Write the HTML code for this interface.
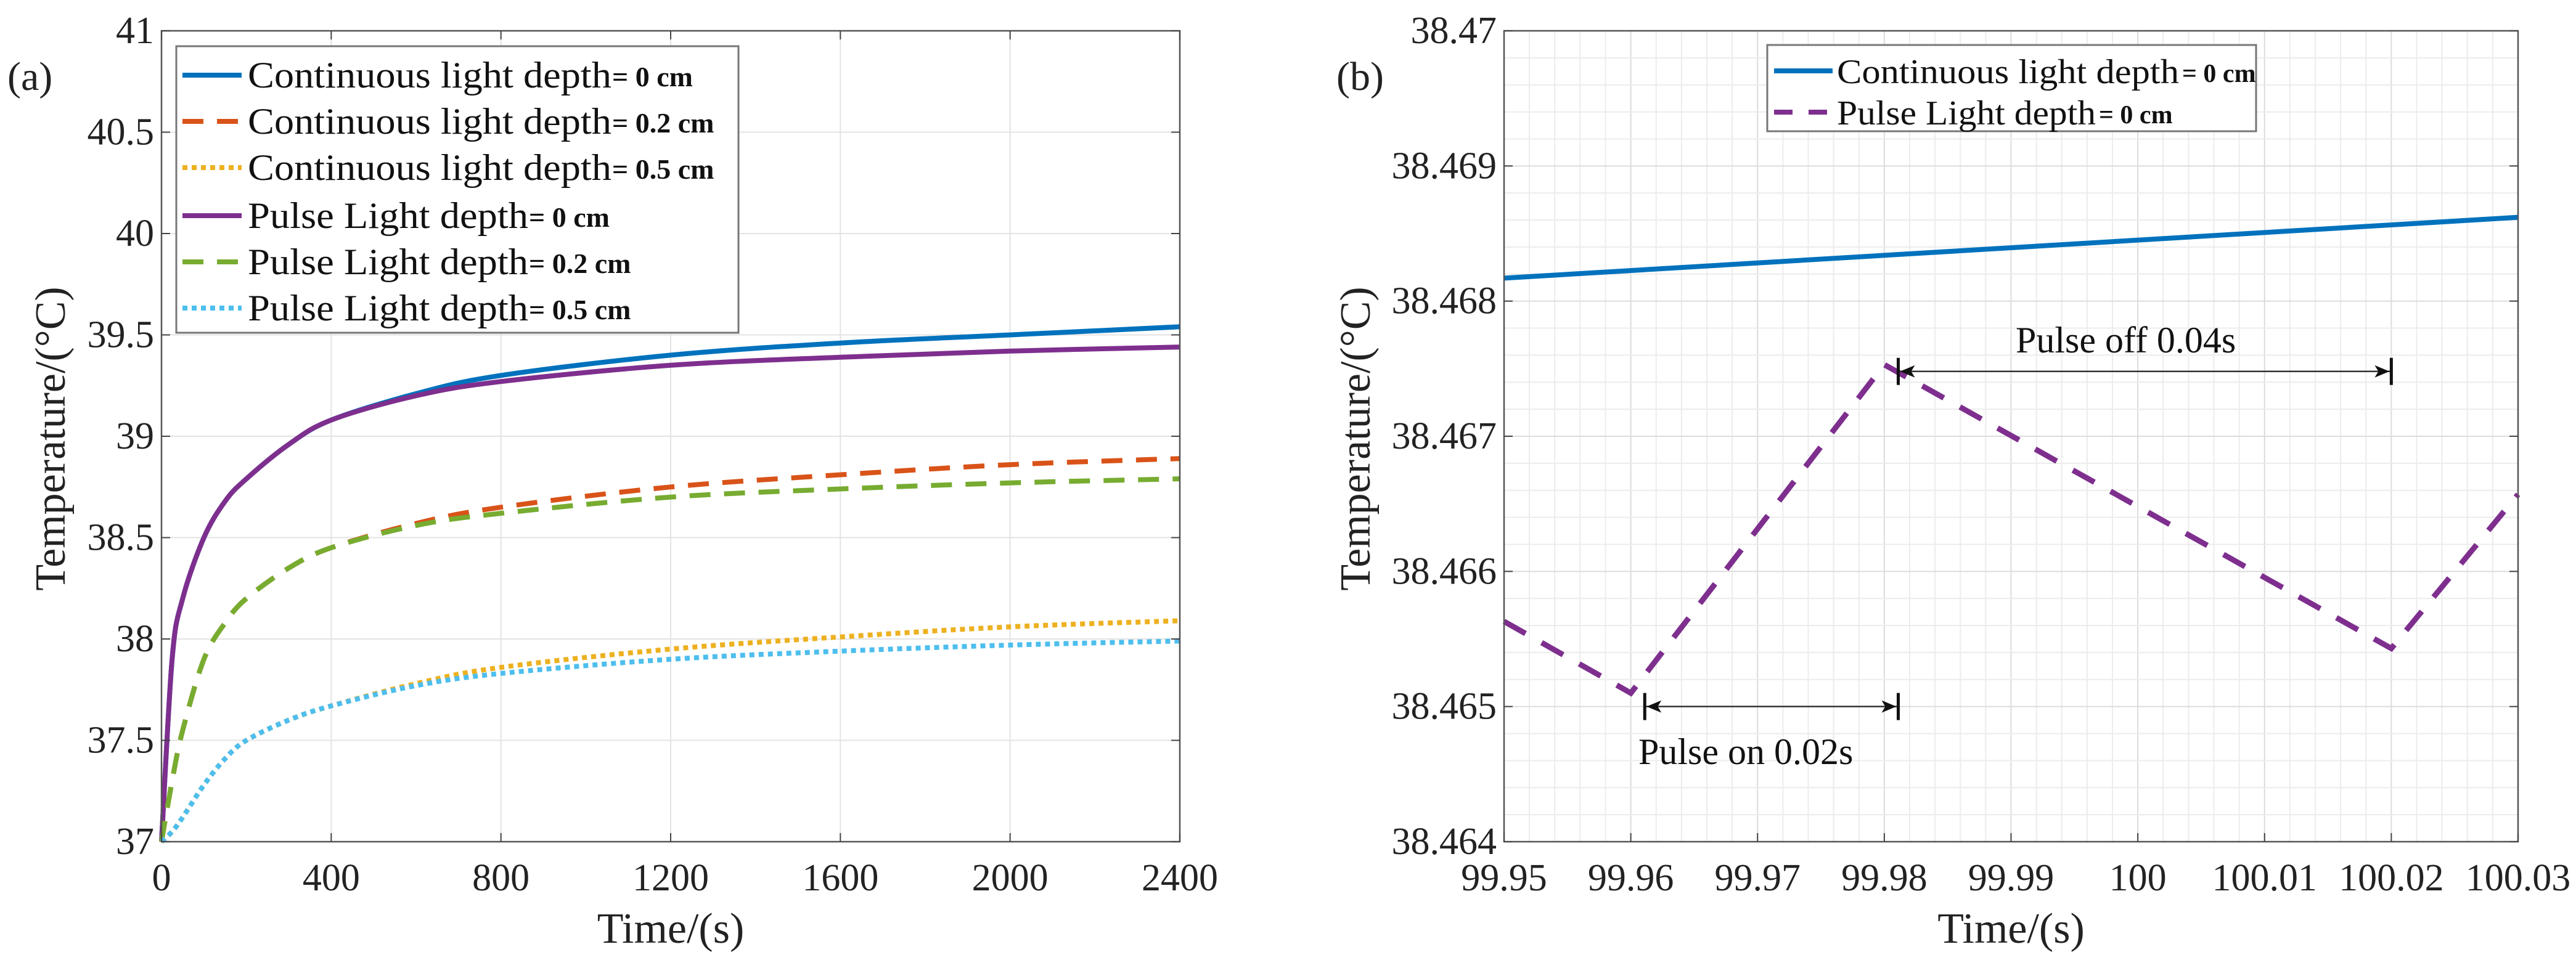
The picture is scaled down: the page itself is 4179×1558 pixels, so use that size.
<!DOCTYPE html>
<html><head><meta charset="utf-8"><style>
html,body{margin:0;padding:0;background:#fff;}
svg{display:block;font-family:"Liberation Serif",serif;}
</style></head><body>
<svg id="fig" width="4179" height="1558" viewBox="0 0 4179 1558" xmlns="http://www.w3.org/2000/svg">
<g id="pa"></g>
<g id="pb"></g>
</svg>
<script>
// ---- Panel (a) data ----
const aTimes = [0,25,50,100,150,200,300,400,600,800,1200,1600,2000,2400];
const aContD0 = [37,37.9,38.2,38.5,38.68,38.79,38.96,39.08,39.21,39.30,39.40,39.46,39.50,39.54];
const aPulseD0 = [37,37.9,38.2,38.5,38.68,38.79,38.96,39.08,39.20,39.27,39.35,39.39,39.42,39.44];
const aContD2 = [37,37.3,37.55,37.9,38.08,38.2,38.35,38.45,38.57,38.65,38.75,38.81,38.86,38.89];
const aPulseD2 = [37,37.3,37.55,37.9,38.08,38.2,38.35,38.45,38.56,38.62,38.70,38.74,38.77,38.79];
const aContD5 = [37,37.05,37.12,37.28,37.41,37.5,37.6,37.67,37.78,37.86,37.95,38.01,38.06,38.09];
const aPulseD5 = [37,37.05,37.12,37.28,37.41,37.5,37.6,37.67,37.77,37.83,37.90,37.94,37.97,37.99];
const aXTicks = [0,400,800,1200,1600,2000,2400];
const aYTicks = [37,37.5,38,38.5,39,39.5,40,40.5,41];
const aYTickLabels = ["37","37.5","38","38.5","39","39.5","40","40.5","41"];
const aLegend = ["Continuous light depth","Continuous light depth","Continuous light depth","Pulse Light depth ","Pulse Light depth ","Pulse Light depth "];
const aLegendVal = ["= 0 cm","= 0.2 cm","= 0.5 cm","= 0 cm","= 0.2 cm","= 0.5 cm"];
// ---- Panel (b) data ----
const bTimes = [99.95,100.03];
const bCont = [38.46817,38.46862];
const bPulseT = [99.95,99.96,99.98,100.02,100.03];
const bPulse = [38.46563,38.46510,38.46753,38.46543,38.46657];
const bXTicks = [99.95,99.96,99.97,99.98,99.99,100,100.01,100.02,100.03];
const bXTickLabels = ["99.95","99.96","99.97","99.98","99.99","100","100.01","100.02","100.03"];
const bYTicks = [38.464,38.465,38.466,38.467,38.468,38.469,38.47];
const bYTickLabels = ["38.464","38.465","38.466","38.467","38.468","38.469","38.47"];

const NS="http://www.w3.org/2000/svg";
function mk(parent,tag,attrs,text){const e=document.createElementNS(NS,tag);for(const k in attrs)e.setAttribute(k,attrs[k]);if(text!==undefined)e.textContent=text;parent.appendChild(e);return e;}
function smoothPath(pts){
  let d="M"+pts[0][0].toFixed(1)+","+pts[0][1].toFixed(1);
  for(let i=0;i<pts.length-1;i++){
    const p0=pts[Math.max(0,i-1)],p1=pts[i],p2=pts[i+1],p3=pts[Math.min(pts.length-1,i+2)];
    const c1=[p1[0]+(p2[0]-p0[0])/6,p1[1]+(p2[1]-p0[1])/6];
    const c2=[p2[0]-(p3[0]-p1[0])/6,p2[1]-(p3[1]-p1[1])/6];
    d+=" C"+c1[0].toFixed(1)+","+c1[1].toFixed(1)+" "+c2[0].toFixed(1)+","+c2[1].toFixed(1)+" "+p2[0].toFixed(1)+","+p2[1].toFixed(1);
  }
  return d;
}
const C={blue:"#0072BD",orange:"#D95319",yellow:"#EDB120",purple:"#7E2F8E",green:"#77AC30",cyan:"#4DBEEE"};

// ===== Panel A =====
(function(){
const g=document.getElementById('pa');
const L=262,R=1914,T=50,B=1366;
const x=t=>L+(t-0)/2400*(R-L);
const y=v=>B-(v-37)/4*(B-T);
// grid
aXTicks.forEach(t=>{const l=mk(g,'line',{x1:x(t),x2:x(t),y1:T,y2:B,stroke:"#e3e3e3","stroke-width":2});
});
aYTicks.forEach(v=>{const l=mk(g,'line',{x1:L,x2:R,y1:y(v),y2:y(v),stroke:"#e3e3e3","stroke-width":2});
});
// series
const series=[[aContD0,C.blue,"none","cont-0cm-line"],[aPulseD0,C.purple,"none","pulse-0cm-line"],[aContD2,C.orange,"34 22","cont-02cm-line"],[aPulseD2,C.green,"34 22","pulse-02cm-line"],[aContD5,C.yellow,"8 7","cont-05cm-line"],[aPulseD5,C.cyan,"8 7","pulse-05cm-line"]];
series.forEach(s=>{const pts=aTimes.map((t,i)=>[x(t),y(s[0][i])]);
const p=mk(g,'path',{d:smoothPath(pts),fill:"none",stroke:s[1],"stroke-width":8,"stroke-dasharray":s[2]});
});
// axes box
const box=mk(g,'rect',{x:L,y:T,width:R-L,height:B-T,fill:"none",stroke:"#555","stroke-width":2.5});

aXTicks.forEach(t=>{mk(g,'line',{x1:x(t),x2:x(t),y1:B,y2:B-14,stroke:"#444","stroke-width":2});mk(g,'line',{x1:x(t),x2:x(t),y1:T,y2:T+14,stroke:"#444","stroke-width":2});
const tx=mk(g,'text',{x:x(t),y:1445,"font-size":62,"text-anchor":"middle",fill:"#222"},String(t));
});
aYTicks.forEach((v,i)=>{mk(g,'line',{x1:L,x2:L+14,y1:y(v),y2:y(v),stroke:"#444","stroke-width":2});mk(g,'line',{x1:R,x2:R-14,y1:y(v),y2:y(v),stroke:"#444","stroke-width":2});
const tx=mk(g,'text',{x:L-12,y:y(v)+20,"font-size":62,"text-anchor":"end",fill:"#222"},aYTickLabels[i]);
});
const xt=mk(g,'text',{x:(L+R)/2,y:1530,"font-size":70,"text-anchor":"middle",fill:"#222"},"Time/(s)");

const yt=mk(g,'text',{x:0,y:0,"font-size":70,"text-anchor":"middle",fill:"#222",transform:"translate(105,712) rotate(-90)"},"Temperature/(°C)");

const pl=mk(g,'text',{x:12,y:146,"font-size":66,fill:"#222"},"(a)");

// legend
const lg=mk(g,'g',{});
mk(lg,'rect',{x:286,y:75,width:912,height:465,fill:"#fff",stroke:"#777","stroke-width":3});
const ly=[122,197,272,350,425,500];
series.slice(0).forEach((s,k)=>{});
const order=[series[0],series[2],series[4],series[1],series[3],series[5]];
order.forEach((s,k)=>{
 const e=mk(lg,'g',{});
 mk(e,'line',{x1:296,x2:392,y1:ly[k],y2:ly[k],stroke:s[1],"stroke-width":8,"stroke-dasharray":s[2]});
 const t1=mk(e,'text',{x:402,y:ly[k]+20,"font-size":60,fill:"#111"},aLegend[k]);
 t1.setAttribute('textLength',k<3?590:(k===3?455:455));t1.setAttribute('lengthAdjust','spacingAndGlyphs');
 mk(e,'text',{x:k<3?993:858,y:ly[k]+18,"font-size":46,"font-weight":"bold",fill:"#111"},aLegendVal[k]);
});
})();

// ===== Panel B =====
(function(){
const g=document.getElementById('pb');
const L=2440,R=4085,T=50,B=1366;
const x=t=>L+(t-99.95)/0.08*(R-L);
const y=v=>B-(v-38.464)/0.006*(B-T);
// minor grid
for(let i=0;i<=40;i++){const xx=L+i*(R-L)/40;mk(g,'line',{x1:xx,x2:xx,y1:T,y2:B,stroke:i%5?"#ececec":"#dcdcdc","stroke-width":2});}
for(let i=0;i<=30;i++){const yy=T+i*(B-T)/30;mk(g,'line',{x1:L,x2:R,y1:yy,y2:yy,stroke:i%5?"#ececec":"#dcdcdc","stroke-width":2});}
const c=mk(g,'polyline',{points:bTimes.map((t,i)=>x(t)+","+y(bCont[i])).join(" "),fill:"none",stroke:C.blue,"stroke-width":8});

const p=mk(g,'polyline',{points:bPulseT.map((t,i)=>x(t)+","+y(bPulse[i])).join(" "),fill:"none",stroke:C.purple,"stroke-width":9,"stroke-dasharray":"40 30"});

const box=mk(g,'rect',{x:L,y:T,width:R-L,height:B-T,fill:"none",stroke:"#555","stroke-width":2.5});

bXTicks.forEach((t,i)=>{mk(g,'line',{x1:x(t),x2:x(t),y1:B,y2:B-14,stroke:"#444","stroke-width":2});
const tx=mk(g,'text',{x:x(t),y:1445,"font-size":62,"text-anchor":"middle",fill:"#222"},bXTickLabels[i]);
});
bYTicks.forEach((v,i)=>{mk(g,'line',{x1:L,x2:L+14,y1:y(v),y2:y(v),stroke:"#444","stroke-width":2});mk(g,'line',{x1:R,x2:R-14,y1:y(v),y2:y(v),stroke:"#444","stroke-width":2});
const tx=mk(g,'text',{x:L-12,y:y(v)+20,"font-size":62,"text-anchor":"end",fill:"#222"},bYTickLabels[i]);
});
const xt=mk(g,'text',{x:(L+R)/2,y:1530,"font-size":70,"text-anchor":"middle",fill:"#222"},"Time/(s)");

const yt=mk(g,'text',{x:0,y:0,"font-size":70,"text-anchor":"middle",fill:"#222",transform:"translate(2222,712) rotate(-90)"},"Temperature/(°C)");

const pl=mk(g,'text',{x:2168,y:146,"font-size":66,fill:"#222"},"(b)");

// annotations
function arrow(x1,x2,yy,name){const a=mk(g,'g',{});
 mk(a,'line',{x1:x1,x2:x2,y1:yy,y2:yy,stroke:"#333","stroke-width":2.5});
 mk(a,'line',{x1:x1,x2:x1,y1:yy-22,y2:yy+22,stroke:"#111","stroke-width":5});
 mk(a,'line',{x1:x2,x2:x2,y1:yy-22,y2:yy+22,stroke:"#111","stroke-width":5});
 mk(a,'path',{d:`M${x1+3},${yy} l24,-10 l-6,10 l6,10 z`,fill:"#111"});
 mk(a,'path',{d:`M${x2-3},${yy} l-24,-10 l6,10 l-6,10 z`,fill:"#111"});}
arrow(x(99.9611),x(99.9811),y(38.465),'pulse-on-arrow');
arrow(x(99.9811),x(100.02),y(38.46748),'pulse-off-arrow');
const a1=mk(g,'text',{x:2658,y:1630/1.0-390,"font-size":60,fill:"#111"},"Pulse on  0.02s");

const a2=mk(g,'text',{x:3270,y:762/1.0-190,"font-size":60,fill:"#111"},"Pulse off  0.04s");

// legend
const lg=mk(g,'g',{});
mk(lg,'rect',{x:2867,y:73,width:793,height:140,fill:"#fff",stroke:"#777","stroke-width":3});
const e1=mk(lg,'g',{});
mk(e1,'line',{x1:2878,x2:2973,y1:115,y2:115,stroke:C.blue,"stroke-width":8});
const t1=mk(e1,'text',{x:2980,y:135,"font-size":56,fill:"#111",textLength:555,lengthAdjust:"spacingAndGlyphs"},"Continuous light depth");
mk(e1,'text',{x:3540,y:133,"font-size":42,"font-weight":"bold",fill:"#111"},"= 0 cm");
const e2=mk(lg,'g',{});
mk(e2,'line',{x1:2878,x2:2973,y1:182,y2:182,stroke:C.purple,"stroke-width":8,"stroke-dasharray":"30 26"});
mk(e2,'text',{x:2980,y:202,"font-size":56,fill:"#111",textLength:420,lengthAdjust:"spacingAndGlyphs"},"Pulse Light depth ");
mk(e2,'text',{x:3405,y:200,"font-size":42,"font-weight":"bold",fill:"#111"},"= 0 cm");
})();
</script>
</body></html>
